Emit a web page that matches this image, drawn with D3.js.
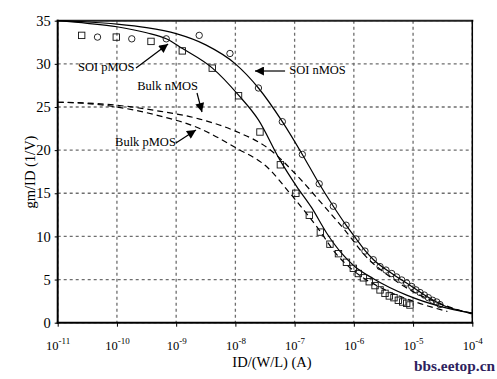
<!DOCTYPE html>
<html>
<head>
<meta charset="utf-8">
<script src="https://cdn.jsdelivr.net/npm/d3@7"></script>
<style>
  body { margin: 0; background: #fff; }
  text { font-family: "Liberation Serif", "Times New Roman", serif; }
</style>
</head>
<body>
<div id="chart"></div>
<script>
// decades on the x axis, y ticks
const xTicks = [1e-11, 1e-10, 1e-9, 1e-8, 1e-7, 1e-6, 1e-5, 1e-4];
const xExponents = [-11, -10, -9, -8, -7, -6, -5, -4];
const yTicks = [0, 5, 10, 15, 20, 25, 30, 35];

// measured points: [ID/(W/L), gm/ID]
const soiNmosData = [
  [4.7e-11, 33.1], [1.78e-10, 32.9], [6.8e-10, 32.9], [2.45e-9, 33.3], [8.1e-9, 31.2],
  [2.45e-8, 27.2], [6.2e-8, 23.3], [1.35e-7, 19.5], [2.6e-7, 16.1], [4.5e-7, 13.5],
  [7.4e-7, 11.3], [1.09e-6, 9.7], [1.54e-6, 8.3], [2.13e-6, 7.3], [2.77e-6, 6.5],
  [3.49e-6, 6.1], [4.36e-6, 5.7], [5.28e-6, 5.3], [6.43e-6, 4.95], [7.8e-6, 4.6],
  [9.5e-6, 4.2], [1.12e-5, 3.8], [1.31e-5, 3.5], [1.55e-5, 3.2], [1.81e-5, 2.9],
  [2.14e-5, 2.6], [2.51e-5, 2.4], [2.84e-5, 2.1]
];
const soiPmosData = [
  [2.54e-11, 33.3], [9.75e-11, 33.1], [3.76e-10, 32.6], [1.27e-9, 31.5], [4.07e-9, 29.5],
  [1.13e-8, 26.3], [2.6e-8, 22.1], [5.75e-8, 18.3], [1.05e-7, 15.0], [1.77e-7, 12.45],
  [2.72e-7, 10.5], [3.95e-7, 9.1], [5.5e-7, 8.0], [7.5e-7, 7.0], [9.8e-7, 6.3],
  [1.19e-6, 5.7], [1.45e-6, 5.2], [1.82e-6, 4.75], [2.28e-6, 4.3], [2.77e-6, 3.8],
  [3.36e-6, 3.4], [3.97e-6, 3.1], [4.76e-6, 2.9], [5.64e-6, 2.6], [6.68e-6, 2.4],
  [7.8e-6, 2.25], [8.87e-6, 2.05]
];

// model curves
const soiNmosModel = [
  [1e-11, 35.0], [3.16e-11, 34.85], [1e-10, 34.6], [3.16e-10, 34.2], [1e-9, 33.5],
  [3.16e-9, 32.2], [1e-8, 30.0], [2.45e-8, 27.2], [6.2e-8, 23.3], [1.35e-7, 19.5],
  [2.6e-7, 16.1], [4.5e-7, 13.5], [7.4e-7, 11.3], [1.1e-6, 9.7], [1.55e-6, 8.35],
  [2.15e-6, 7.3], [4.4e-6, 5.7], [9.5e-6, 4.2], [1.8e-5, 2.95], [2.8e-5, 2.2], [1e-4, 1.1]
];
const soiPmosModel = [
  [1e-11, 35.0], [3.16e-11, 34.7], [1e-10, 34.3], [3.16e-10, 33.6], [6.8e-10, 32.9],
  [1.26e-9, 31.8], [4.1e-9, 29.5], [1.12e-8, 26.4], [2.45e-8, 23.5], [5.6e-8, 18.9],
  [1.08e-7, 15.8], [1.95e-7, 13.3], [3.47e-7, 10.4], [6.3e-7, 8.0], [1e-6, 6.6],
  [2.14e-6, 5.1], [7.8e-6, 3.2], [2.85e-5, 1.9], [1e-4, 1.1]
];
const bulkNmosModel = [
  [1e-11, 25.55], [3.16e-11, 25.45], [1e-10, 25.2], [4.4e-10, 24.6], [2.5e-9, 23.6],
  [1e-8, 22.2], [3.6e-8, 20.2], [1.15e-7, 16.9], [2.9e-7, 13.8], [7.1e-7, 10.7],
  [1.74e-6, 7.4], [3.16e-6, 5.9], [1e-5, 3.6], [3.16e-5, 2.1], [1e-4, 1.0]
];
const bulkPmosModel = [
  [1e-11, 25.55], [3.16e-11, 25.4], [1e-10, 25.0], [4.4e-10, 24.1], [2.5e-9, 22.5],
  [1e-8, 20.3], [3.6e-8, 17.9], [7.9e-8, 15.2], [2.5e-7, 10.9], [5e-7, 8.0],
  [1e-6, 6.0], [3.16e-6, 3.9], [1e-5, 2.5], [3.8e-5, 1.3]
];

// annotations: label, text anchor point, arrow start, arrow tip (data units)
const notes = [
  {label: "SOI pMOS",  at: [2.2e-11, 29.17], from: [2.1e-10, 29.52], to: [7.3e-10, 32.3]},
  {label: "Bulk nMOS", at: [2.2e-10, 26.97], from: [2.25e-9, 26.62], to: [2.73e-9, 24.42]},
  {label: "Bulk pMOS", at: [9.3e-11, 20.48], from: [9.9e-10, 20.83], to: [2.16e-9, 22.33]},
  {label: "SOI nMOS",  at: [8.1e-8, 28.82], from: [6.9e-8, 29.17], to: [2.14e-8, 29.17]}
];

margin = {top: 20.7, bottom: 56.3, left: 57.7, right: 24.7};
let W = 497, H = 379;
let width = W - margin.left - margin.right;
let height = H - margin.top - margin.bottom;

let svg = d3.select("#chart").append("svg")
  .attr("width", W)
  .attr("height", H);

svg.append("defs").append("marker")
  .attr("id", "head")
  .attr("viewBox", "0 0 10 10")
  .attr("refX", 10).attr("refY", 5)
  .attr("markerWidth", 11).attr("markerHeight", 9)
  .attr("markerUnits", "userSpaceOnUse")
  .attr("orient", "auto")
  .append("path")
  .attr("d", "M0,0 L10,5 L0,10 Z")
  .attr("fill", "#000");

let g = svg.append("g").attr("transform", `translate(${margin.left},${margin.top})`);

let x = d3.scaleLog().domain([1e-11, 1e-4]).range([0, width]);
let y = d3.scaleLinear().domain([0, 35]).range([height, 0]);

// grid, drawn from the scales' tick positions
let grid = g.append("g").attr("class", "grid");
grid.selectAll(".vgrid").data(xTicks).enter().append("line")
  .attr("class", "vgrid")
  .attr("x1", d => x(d)).attr("x2", d => x(d))
  .attr("y1", 0).attr("y2", height);
grid.selectAll(".hgrid").data(yTicks).enter().append("line")
  .attr("class", "hgrid")
  .attr("x1", 0).attr("x2", width)
  .attr("y1", d => y(d)).attr("y2", d => y(d));
grid.selectAll("line")
  .style("stroke", "#6e6e6e")
  .style("stroke-width", "1.3px")
  .style("stroke-dasharray", "3 3");

// axes
let xAxis = g.append("g")
  .attr("transform", `translate(0,${height})`)
  .call(d3.axisBottom(x).tickValues(xTicks).tickSize(4).tickFormat(""));
xAxis.selectAll(".tick").each(function(d, i) {
  let t = d3.select(this).append("text")
    .attr("y", 27)
    .attr("fill", "#000")
    .attr("font-size", 12.5)
    .attr("text-anchor", "middle");
  t.append("tspan").text("10");
  t.append("tspan")
    .attr("dy", -6)
    .attr("font-size", 9)
    .text(xExponents[i]);
});

let yAxis = g.append("g")
  .call(d3.axisLeft(y).tickValues(yTicks).tickSize(3).tickPadding(4));
yAxis.selectAll(".tick text")
  .attr("font-size", 14.5)
  .attr("font-family", "Liberation Serif")
  .attr("fill", "#000");

[xAxis, yAxis].forEach(a => {
  a.select(".domain").attr("stroke", "none");
  a.selectAll(".tick line").attr("stroke", "#000");
});

// frame
let frame = [
  {x1: 0, y1: 0, x2: width, y2: 0, w: 2, c: "#222"},
  {x1: width, y1: 0, x2: width, y2: height, w: 1.5, c: "#000"},
  {x1: 0, y1: 0, x2: 0, y2: height, w: 2, c: "#000"},
  {x1: 0, y1: height, x2: width, y2: height, w: 2, c: "#000"}
];
g.selectAll(".frame").data(frame).enter().append("line")
  .attr("x1", d => d.x1).attr("y1", d => d.y1)
  .attr("x2", d => d.x2).attr("y2", d => d.y2)
  .attr("stroke", d => d.c)
  .attr("stroke-width", d => d.w)
  .attr("stroke-linecap", "square");

// curves
let line = d3.line()
  .x(d => x(d[0]))
  .y(d => y(d[1]))
  .curve(d3.curveMonotoneX);

let curves = [
  {data: soiNmosModel, dash: null},
  {data: soiPmosModel, dash: null},
  {data: bulkNmosModel, dash: "6,4"},
  {data: bulkPmosModel, dash: "6,4"}
];
g.selectAll(".curve").data(curves).enter().append("path")
  .attr("class", "curve")
  .attr("d", d => line(d.data))
  .attr("fill", "none")
  .attr("stroke", "#000")
  .attr("stroke-width", 1.2)
  .attr("stroke-dasharray", d => d.dash);

// markers
g.selectAll(".circ").data(soiNmosData).enter().append("circle")
  .attr("cx", d => x(d[0]))
  .attr("cy", d => y(d[1]))
  .attr("r", 3.2)
  .attr("fill", "none")
  .attr("stroke", "#111")
  .attr("stroke-width", 0.9);

g.selectAll(".sq").data(soiPmosData).enter().append("rect")
  .attr("x", d => x(d[0]) - 3.2)
  .attr("y", d => y(d[1]) - 3.2)
  .attr("width", 6.4)
  .attr("height", 6.4)
  .attr("fill", "none")
  .attr("stroke", "#111")
  .attr("stroke-width", 0.9);

// annotations
notes.forEach(n => {
  g.append("text")
    .attr("x", x(n.at[0]))
    .attr("y", y(n.at[1]))
    .attr("font-size", 12.5)
    .attr("fill", "#000")
    .text(n.label);
  g.append("line")
    .attr("x1", x(n.from[0])).attr("y1", y(n.from[1]))
    .attr("x2", x(n.to[0])).attr("y2", y(n.to[1]))
    .attr("stroke", "#000")
    .attr("stroke-width", 1.2)
    .attr("marker-end", "url(#head)");
});

// axis titles
svg.append("text")
  .attr("x", 272)
  .attr("y", 367)
  .attr("text-anchor", "middle")
  .attr("font-size", 14.5)
  .text("ID/(W/L) (A)");

svg.append("text")
  .attr("transform", "translate(35,172) rotate(-90)")
  .attr("text-anchor", "middle")
  .attr("font-size", 14.5)
  .text("gm/ID (1/V)");

// watermark
svg.append("text")
  .attr("x", 414)
  .attr("y", 371)
  .attr("font-family", "DejaVu Sans Condensed, DejaVu Sans")
  .attr("font-weight", "bold")
  .attr("font-size", 14)
  .attr("textLength", 81)
  .attr("lengthAdjust", "spacingAndGlyphs")
  .attr("fill", "#2e1f5e")
  .text("bbs.eetop.cn");
</script>
</body>
</html>
